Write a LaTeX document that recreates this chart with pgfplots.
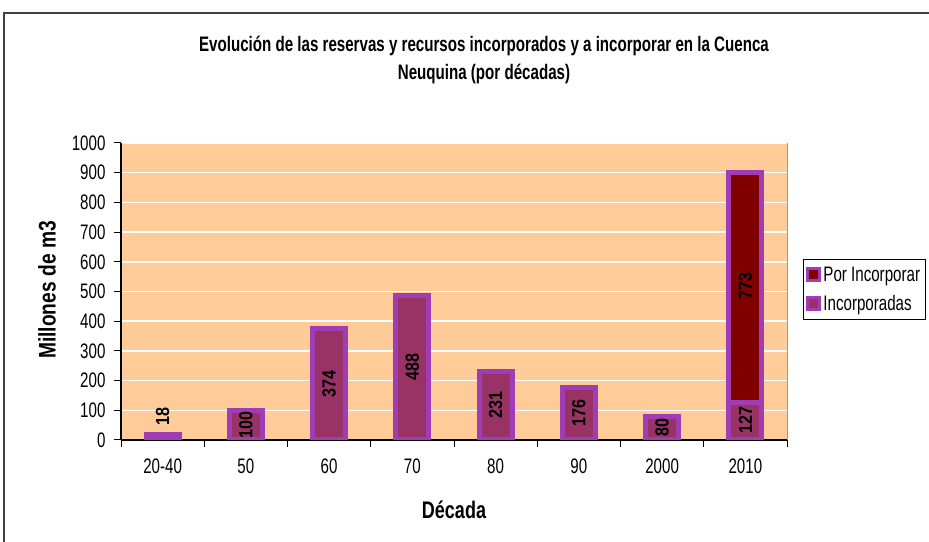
\documentclass[border=0pt]{standalone}
\usepackage{fontspec}
\setmainfont{Liberation Sans}[FakeStretch=0.72]
\newfontfamily\axfont{Liberation Sans}[FakeStretch=0.75]
\newfontfamily\ylfont{Liberation Sans}[FakeStretch=0.8]
\newfontfamily\lblfont{Liberation Sans}[FakeStretch=0.85]
\usepackage{pgfplots}
\pgfplotsset{compat=1.18}
\definecolor{bg}{HTML}{FFCC99}
\definecolor{barfill}{HTML}{993366}
\definecolor{barline}{HTML}{A03CB4}
\definecolor{topfill}{HTML}{800000}
\definecolor{framec}{HTML}{404040}
\begin{document}
\begin{tikzpicture}
\useasboundingbox (0pt,0pt) rectangle (929pt,541pt);
\fill[white] (0pt,0pt) rectangle (929pt,541pt);
\draw[framec, line width=1.3pt] (4pt,-5pt) -- (4pt,528pt) -- (940pt,528pt);
\node[font=\fontsize{21}{28}\selectfont\bfseries, align=center] at (484pt,481pt)
  {Evolución de las reservas y recursos incorporados y a incorporar en la Cuenca\\Neuquina (por décadas)};
\begin{axis}[
  at={(121pt,101pt)}, anchor=south west,
  width=666pt, height=297pt, scale only axis,
  xmin=-0.5, xmax=7.5, ymin=0, ymax=1000,
  ybar stacked, bar width=33pt,
  axis background/.style={fill=bg, draw=gray!80, line width=0.8pt},
  axis x line*=bottom, axis y line*=left,
  axis line style={black, line width=1.1pt},
  ytick={0,100,...,1000},
  ymajorgrids, grid style={white, line width=1.5pt},
  xtick={0,...,7}, xticklabels={20-40,50,60,70,80,90,2000,2010},
  major x tick style={draw=none},
  minor xtick={-0.5,0.5,...,7.5},
  minor x tick style={black, line width=1pt},
  ytick style={black, line width=1pt},
  tick align=outside, major tick length=7pt, minor tick length=7pt,
  tick label style={font=\fontsize{21}{24}\selectfont},
  xticklabel style={yshift=-8pt},
  yticklabel style={xshift=-5pt},
  /pgf/number format/assume math mode=true,
  /pgf/number format/1000 sep={},
  legend style={at={(1.024,0.609)}, anchor=north west, draw=black, line width=0.9pt,
    fill=white, font=\fontsize{21}{24}\selectfont, inner xsep=3pt, inner ysep=5pt, row sep=9pt},
  legend cell align=left,
  reverse legend,
  legend image code/.code={\draw[#1, line width=3pt] (0pt,-6pt) rectangle (12pt,6pt);},
]
\addplot[fill=barfill, draw=barline, line width=5pt] coordinates
  {(0,18) (1,100) (2,374) (3,488) (4,231) (5,176) (6,80) (7,127)};
\addlegendentry{Incorporadas}
\addplot[fill=topfill, draw=barline, line width=5pt] coordinates
  {(0,0) (1,0) (2,0) (3,0) (4,0) (5,0) (6,0) (7,773)};
\addlegendentry{Por Incorporar}
\end{axis}
\begin{axis}[
  at={(121pt,101pt)}, anchor=south west,
  width=666pt, height=297pt, scale only axis,
  xmin=-0.5, xmax=7.5, ymin=0, ymax=1000,
  hide axis,
  nodes near coords, point meta=explicit symbolic,
  every node near coord/.append style={rotate=90, anchor=center,
    font=\lblfont\fontsize{19}{20}\selectfont\bfseries, inner sep=0pt},
]
\addplot[draw=none, mark=none] coordinates
  {(0,80)[18] (1,52)[100] (2,190)[374] (3,246)[488] (4,117)[231] (5,90)[176] (6,42)[80] (7,68)[127] (7,518)[773]};
\end{axis}
\node[font=\ylfont\fontsize{24}{26}\selectfont\bfseries, rotate=90] at (47pt,251pt) {Millones de m3};
\node[font=\axfont\fontsize{24}{26}\selectfont\bfseries] at (454pt,31pt) {Década};
\end{tikzpicture}
\end{document}
